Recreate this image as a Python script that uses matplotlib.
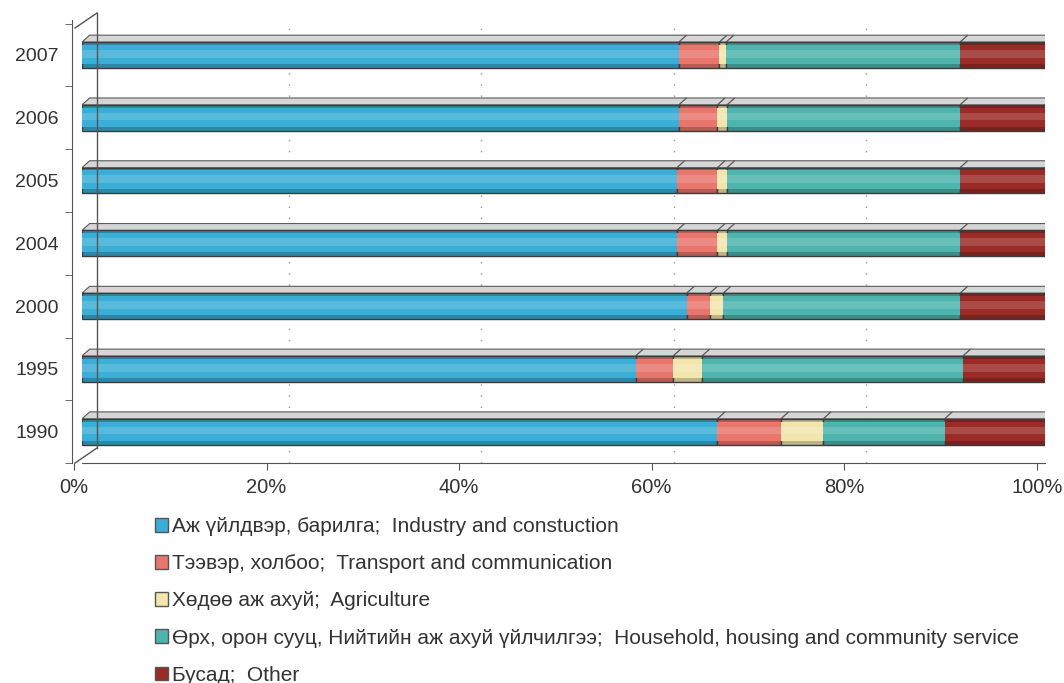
import matplotlib
matplotlib.use('Agg')
import matplotlib.pyplot as plt
import numpy as np
from matplotlib.patches import Polygon, Patch
from matplotlib.colors import to_rgb
from matplotlib.transforms import ScaledTranslation, offset_copy
from matplotlib.lines import Line2D

plt.rcParams['font.family'] = ['Liberation Sans', 'DejaVu Sans']

years = ['1990', '1995', '2000', '2004', '2005', '2006', '2007']
industry = [66.0, 57.5, 62.8, 61.8, 61.8, 62.0, 62.0]
transport = [6.6, 3.9, 2.4, 4.2, 4.2, 4.0, 4.2]
agriculture = [4.4, 3.0, 1.4, 1.0, 1.0, 1.0, 0.7]
household = [12.6, 27.1, 24.6, 24.2, 24.2, 24.2, 24.3]
other = [10.4, 8.5, 8.8, 8.8, 8.8, 8.8, 8.8]

labels = ['Аж үйлдвэр, барилга;  Industry and constuction',
          'Тээвэр, холбоо;  Transport and communication',
          'Хөдөө аж ахуй;  Agriculture',
          'Өрх, орон сууц, Нийтийн аж ахуй үйлчилгээ;  Household, housing and community service',
          'Бусад;  Other']
colors = ['#3aaed6', '#e8766c', '#f2e6ad', '#4db5ad', '#9a2b26']

series = [industry, transport, agriculture, household, other]

fig = plt.figure(figsize=(10.64, 6.83), dpi=100)
ax = fig.add_axes([0.077, 0.322, 0.905, 0.649])

y = np.arange(len(years))
h = 0.41
dx, dy = 0.8, 0.11

# dotted gridlines on the back wall
gtr = offset_copy(ax.get_xaxis_transform(), fig=fig, x=14, y=0, units='dots')
for v in [20, 40, 60, 80]:
    ax.plot([v, v], [0, 1], transform=gtr, color='#9a9a9a', lw=1.0,
            linestyle=(0, (1, 7)), zorder=0, clip_on=False)

left = np.zeros(len(years))
for vals, col in zip(series, colors):
    vals = np.array(vals)
    dark = tuple(0.78 * np.array(to_rgb(col)))
    ax.barh(y, vals, left=left, height=h, color=dark, edgecolor='#3c3c3c',
            linewidth=1.0, zorder=3)
    ax.barh(y + 0.01, vals, left=left, height=h * 0.74, color=col,
            linewidth=0, zorder=4)
    light = tuple(0.6 * np.array(to_rgb(col)) + 0.4)
    ax.barh(y + 0.02, vals, left=left, height=h * 0.3, color=light, alpha=0.4,
            linewidth=0, zorder=5)
    for yi, l, w in zip(y, left, vals):
        top = yi + h / 2
        ax.add_patch(Polygon([(l, top), (l + w, top), (l + w + dx, top + dy), (l + dx, top + dy)],
                             closed=True, facecolor='#d6d6d6', edgecolor='#5a5a5a',
                             linewidth=0.8, zorder=2))
    left = left + vals

for yi, r in zip(y, left):
    bot, top = yi - h / 2, yi + h / 2
    ax.add_patch(Polygon([(r, bot), (r, top), (r + dx, top + dy), (r + dx, bot + dy)],
                         closed=True, facecolor='white', edgecolor='#5a5a5a',
                         linewidth=0.8, zorder=2))

ax.set_xlim(0, 100)
ax.set_ylim(-0.5, 6.56)
ax.set_yticks(y)
ax.set_yticklabels(years)
ax.set_yticks(np.arange(-0.5, 6.6, 1.0), minor=True)
ax.tick_params(axis='y', which='major', length=0, pad=10, labelsize=14, labelcolor='#333333')
ax.tick_params(axis='y', which='minor', length=5, color='#555555')
ax.set_xticks([0, 20, 40, 60, 80, 100])
ax.set_xticklabels(['0%', '20%', '40%', '60%', '80%', '100%'])
ax.tick_params(axis='x', length=5, color='#555555', pad=6, labelsize=14.5, labelcolor='#333333')
shift = ScaledTranslation(-8 / 100, 0, fig.dpi_scale_trans)
for lbl in ax.get_xticklabels():
    lbl.set_transform(lbl.get_transform() + shift)
for t in ax.xaxis.get_major_ticks():
    t.tick1line.set_transform(t.tick1line.get_transform() + shift)

for s in ['top', 'right']:
    ax.spines[s].set_visible(False)
ax.spines['left'].set_color('#555555')
ax.spines['bottom'].set_color('#555555')
ax.spines['left'].set_position(('outward', 7))

# side wall of the 3D frame
fig.add_artist(Line2D([97 / 1064, 97 / 1064], [1 - 448 / 683, 1 - 13 / 683],
                      color='#555555', lw=1.0))
fig.add_artist(Line2D([75 / 1064, 97 / 1064], [1 - 463 / 683, 1 - 448 / 683],
                      color='#555555', lw=1.0))
fig.add_artist(Line2D([75 / 1064, 97 / 1064], [1 - 28 / 683, 1 - 13 / 683],
                      color='#555555', lw=1.0))

handles = [Patch(facecolor=c, edgecolor='#555555') for c in colors]
fig.legend(handles, labels, loc='upper left', bbox_to_anchor=(0.138, 0.255),
           frameon=False, fontsize=15, handlelength=0.63, handleheight=0.63,
           handletextpad=0.2, labelspacing=0.87, borderaxespad=0, labelcolor='#333333')

fig.savefig('out.png', dpi=100)
